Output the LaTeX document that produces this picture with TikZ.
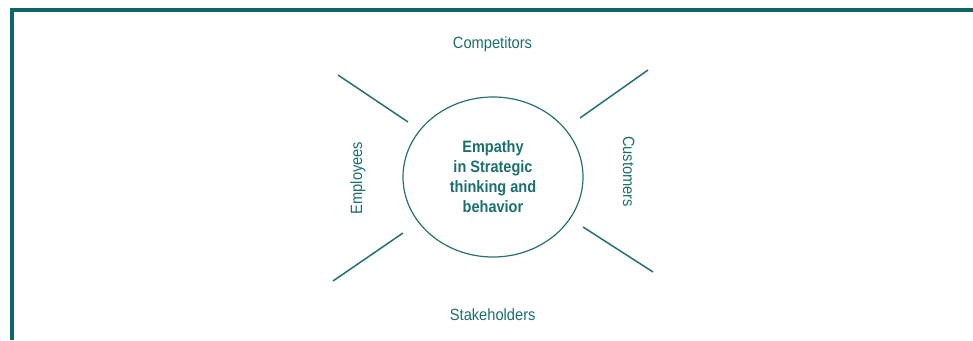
\documentclass[tikz,border=0pt]{standalone}
\usepackage{fontspec}
\setmainfont{Liberation Sans}
\newfontfamily\labelfont[FakeStretch=0.9]{Liberation Sans}
\newfontfamily\corefont[FakeStretch=0.88]{Liberation Sans}
\usepackage{xcolor}
\usetikzlibrary{positioning,shapes.geometric}
\definecolor{frameteal}{HTML}{0F6666}
\definecolor{textteal}{HTML}{1B6F6F}
\definecolor{lineteal}{HTML}{26706F}
\tikzset{
	side label/.style={text=textteal,inner sep=0pt,font=\labelfont\fontsize{16.3}{18}\selectfont},
	spoke/.style={draw=lineteal,line width=1.5pt},
}

\begin{document}
\begin{tikzpicture}[x=1pt,y=-1pt]
		
		\useasboundingbox (0,0) rectangle (973,340);
		
		\draw[frameteal,line width=4pt] (12,340)--(12,10)--(973,10);
		
		\node[ellipse,draw=lineteal,line width=1.2pt,
		minimum width=180pt,minimum height=160pt,inner sep=0pt,
		align=center,text=textteal,
		font=\corefont\bfseries\fontsize{16.5}{20}\selectfont]
		(core) at (493,177)
		{Empathy\\in Strategic\\thinking and\\behavior};
		
		\node[side label,anchor=base] (competitors) at (492.5,48.3) {Competitors};
		\node[side label,anchor=base] (stakeholders) at (492.7,320) {Stakeholders};
		\node[side label,anchor=base,rotate=90] (employees) at (362,178) {Employees};
		\node[side label,anchor=base,rotate=-90] (customers) at (623,171.5) {Customers};
		
		\coordinate (ul1) at (338,75);
		\coordinate (ul2) at (408,122);
		\coordinate (ur1) at (648,70);
		\coordinate (ur2) at (580,118);
		\coordinate (ll1) at (403,233);
		\coordinate (ll2) at (333,281);
		\coordinate (lr1) at (583,227);
		\coordinate (lr2) at (653,272);
		
		\draw[spoke] (ul1)--(ul2);
		\draw[spoke] (ur1)--(ur2);
		\draw[spoke] (ll1)--(ll2);
		\draw[spoke] (lr1)--(lr2);
		
	\end{tikzpicture}
\end{document}
